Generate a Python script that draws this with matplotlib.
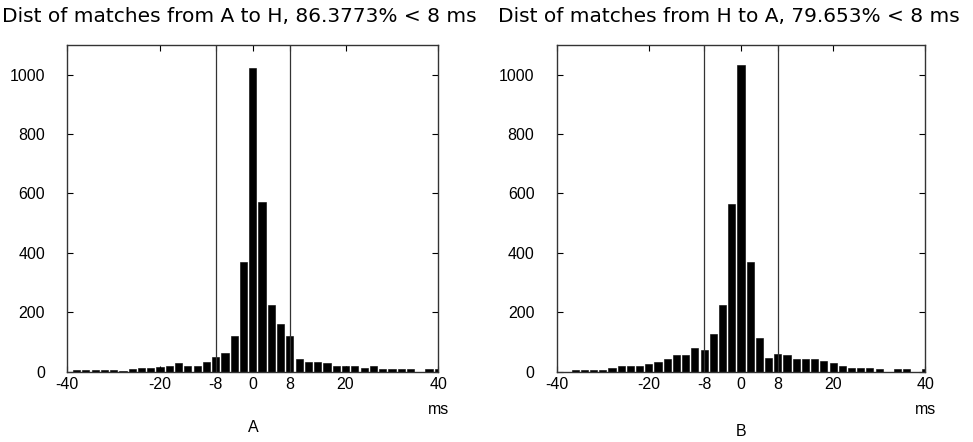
import matplotlib
matplotlib.use("Agg")
import matplotlib.pyplot as plt

# ---- data ----
bin_centers = [-40, -38, -36, -34, -32, -30, -28, -26, -24, -22, -20,
               -18, -16, -14, -12, -10, -8, -6, -4, -2, 0,
               2, 4, 6, 8, 10, 12, 14, 16, 18, 20,
               22, 24, 26, 28, 30, 32, 34, 36, 38, 40]
counts_a = [0, 6, 6, 6, 6, 6, 1, 7, 12, 12, 14,
            20, 27, 18, 18, 31, 48, 61, 120, 368, 1024,
            572, 224, 159, 120, 42, 31, 31, 27, 19, 19,
            19, 13, 19, 7, 7, 7, 7, 0, 7, 7]
counts_b = [0, 0, 6, 6, 6, 6, 13, 18, 18, 18, 25,
            31, 42, 54, 56, 78, 72, 125, 224, 566, 1032,
            368, 112, 47, 60, 54, 43, 42, 42, 36, 30,
            18, 13, 13, 13, 7, 0, 7, 7, 0, 7]
titles = ["Dist of matches from A to H, 86.3773% < 8 ms",
          "Dist of matches from H to A, 79.653% < 8 ms"]
panel_labels = ["A", "B"]
xticks = [-40, -20, -8, 0, 8, 20, 40]
yticks = [0, 200, 400, 600, 800, 1000]
threshold = 8
unit_label = "ms"

W, H = 973, 442
fig = plt.figure(figsize=(W / 100, H / 100), dpi=100)
fig.patch.set_facecolor("white")

tick_font = ["Liberation Sans Narrow", "Liberation Sans", "DejaVu Sans"]
title_font = ["DejaVu Sans"]

ax_boxes = [(67.3, 371.0), (556.7, 368.5)]
ax_top, ax_bottom = 45.0, 371.5
title_cx = [239.5, 728.5]
letter_y = [428, 432]

for i, (counts, title) in enumerate(zip([counts_a, counts_b], titles)):
    left, width = ax_boxes[i]
    ax = fig.add_axes([left / W, (H - ax_bottom) / H, width / W,
                       (ax_bottom - ax_top) / H])
    ax.bar(bin_centers, counts, width=1.55, color="black",
           edgecolor="black", linewidth=0.4)
    ax.axvline(-threshold, color="#333333", linewidth=0.9)
    ax.axvline(threshold, color="#333333", linewidth=0.9)
    ax.set_xlim(-40, 40)
    ax.set_ylim(0, 1100)
    ax.set_xticks(xticks)
    ax.set_xticklabels([str(t) for t in xticks])
    ax.set_yticks(yticks)
    ax.set_yticklabels([str(t) for t in yticks])
    ax.tick_params(direction="in", length=4, width=0.8, top=True,
                   right=True, colors="black", labelsize=11.5)
    ax.tick_params(axis="y", pad=16)
    ax.tick_params(axis="x", pad=4)
    for lab in ax.get_xticklabels() + ax.get_yticklabels():
        lab.set_family(tick_font)
    for sp in ax.spines.values():
        sp.set_color("#333333")
        sp.set_linewidth(1.0)
    # unit label under right end
    ax.text(1.0, (ax_bottom - 410) / (ax_bottom - ax_top), unit_label,
            transform=ax.transAxes, ha="center", va="center",
            fontsize=11.5, family=tick_font)
    # panel letter
    ax.text(0.5, (ax_bottom - letter_y[i]) / (ax_bottom - ax_top),
            panel_labels[i], transform=ax.transAxes, ha="center",
            va="center", fontsize=11.5, family=tick_font)
    fig.text(title_cx[i] / W, 1 - 17 / H, title, ha="center", va="center",
             fontsize=14.5, family=title_font)

fig.savefig("out.png", dpi=100, facecolor="white")
